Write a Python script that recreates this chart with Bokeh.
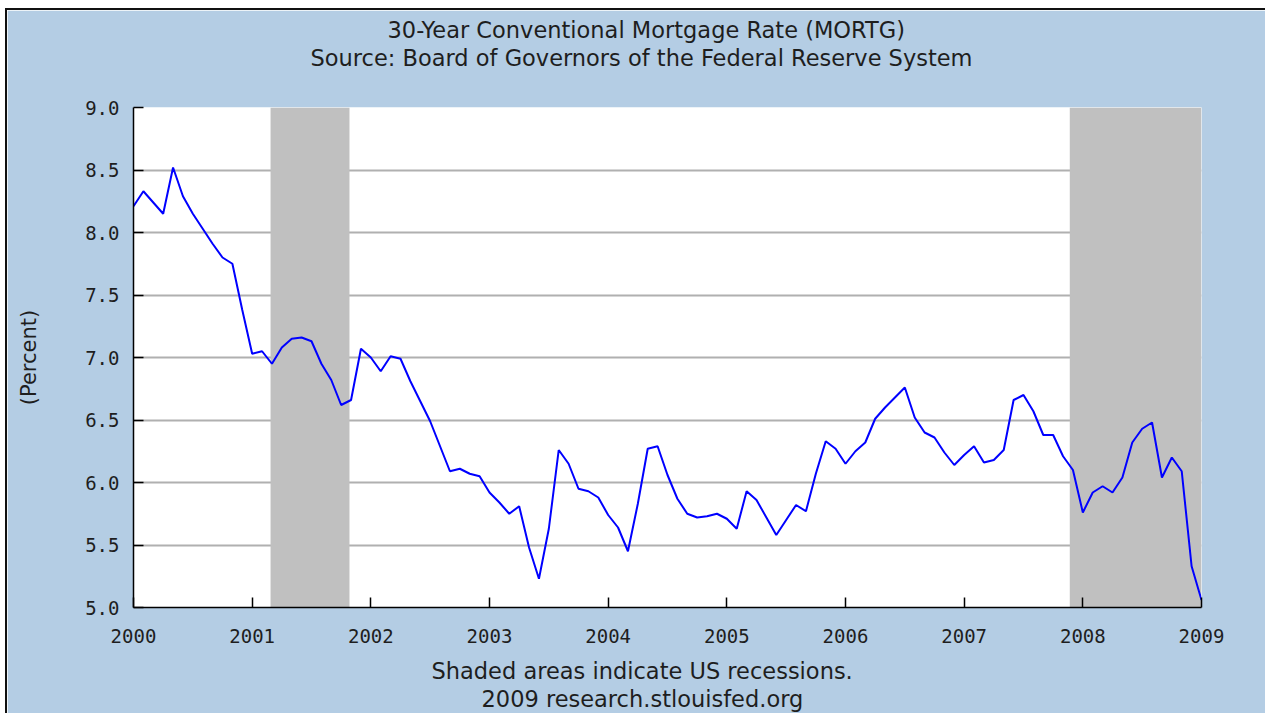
from bokeh.plotting import figure
from bokeh.models import FixedTicker, PrintfTickFormatter, Range1d, Title
from bokeh.embed import file_html
from bokeh.resources import INLINE

# ---- data ----
months = [f"{y}-{m:02d}" for y in range(2000, 2009) for m in range(1, 13)] + ["2009-01"]
rate = [
    8.21, 8.33, 8.24, 8.15, 8.52, 8.29, 8.15, 8.03, 7.91, 7.80, 7.75, 7.38,
    7.03, 7.05, 6.95, 7.08, 7.15, 7.16, 7.13, 6.95, 6.82, 6.62, 6.66, 7.07,
    7.00, 6.89, 7.01, 6.99, 6.81, 6.65, 6.49, 6.29, 6.09, 6.11, 6.07, 6.05,
    5.92, 5.84, 5.75, 5.81, 5.48, 5.23, 5.63, 6.26, 6.15, 5.95, 5.93, 5.88,
    5.74, 5.64, 5.45, 5.83, 6.27, 6.29, 6.06, 5.87, 5.75, 5.72, 5.73, 5.75,
    5.71, 5.63, 5.93, 5.86, 5.72, 5.58, 5.70, 5.82, 5.77, 6.07, 6.33, 6.27,
    6.15, 6.25, 6.32, 6.51, 6.60, 6.68, 6.76, 6.52, 6.40, 6.36, 6.24, 6.14,
    6.22, 6.29, 6.16, 6.18, 6.26, 6.66, 6.70, 6.57, 6.38, 6.38, 6.21, 6.10,
    5.76, 5.92, 5.97, 5.92, 6.04, 6.32, 6.43, 6.48, 6.04, 6.20, 6.09, 5.33,
    5.06,
]
recession_start = [2001.155, 2007.89]
recession_end = [2001.82, 2009.0]
x_ticks = list(range(2000, 2010))
y_ticks = [5.0, 5.5, 6.0, 6.5, 7.0, 7.5, 8.0, 8.5, 9.0]

title1 = "30-Year Conventional Mortgage Rate (MORTG)"
title2 = "Source: Board of Governors of the Federal Reserve System"
foot1 = "Shaded areas indicate US recessions."
foot2 = "2009 research.stlouisfed.org"
ylabel = "(Percent)"

# decimal-year positions of the months
xpos = [int(s[:4]) + (int(s[5:7]) - 1) / 12 for s in months]

BG = "#b4cde4"
TXT = "#1e1e1e"
FONT = "DejaVu Sans"

p = figure(width=1260, height=705,
           x_range=Range1d(x_ticks[0], x_ticks[-1]),
           y_range=Range1d(y_ticks[0], y_ticks[-1]),
           output_backend="svg", toolbar_location=None,
           min_border_left=126, min_border_right=66,
           min_border_top=97, min_border_bottom=108,
           background_fill_color="white", border_fill_color=BG,
           outline_line_color=None)
p.styles = {"margin-left": "5px", "margin-top": "8px",
            "border-left": "2px solid #111", "border-top": "2px solid #111"}

# recession shading (above grid, below line)
p.quad(left=recession_start, right=recession_end,
       bottom=y_ticks[0], top=y_ticks[-1],
       fill_color="#c0c0c0", line_color=None)

p.line(xpos, rate, line_color="#0000ff", line_width=2)

# axes
p.xaxis.ticker = FixedTicker(ticks=x_ticks)
p.xaxis.formatter = PrintfTickFormatter(format="%d")
p.yaxis.ticker = FixedTicker(ticks=y_ticks)
p.yaxis.formatter = PrintfTickFormatter(format="%.1f")
for ax in (p.xaxis, p.yaxis):
    ax.major_tick_in = 10
    ax.major_tick_out = 0
    ax.minor_tick_line_color = None
    ax.major_tick_line_color = "black"
    ax.major_tick_line_width = 1.5
    ax.axis_line_color = "black"
    ax.axis_line_width = 1.5
    ax.major_label_text_font = "DejaVu Sans Mono"
    ax.major_label_text_font_size = "19px"
    ax.major_label_text_color = TXT
p.xaxis.major_label_standoff = 21
p.yaxis.major_label_standoff = 14

p.yaxis.axis_label = ylabel
p.yaxis.axis_label_text_font = FONT
p.yaxis.axis_label_text_font_style = "normal"
p.yaxis.axis_label_text_font_size = "21px"
p.yaxis.axis_label_text_color = TXT
p.yaxis.axis_label_standoff = 41

p.xgrid.grid_line_color = None
p.ygrid.grid_line_color = "#b0b0b0"
p.ygrid.grid_line_width = 2

def ttl(text, side, offset, standoff=0, size="22.5px"):
    p.add_layout(Title(text=text, align="left", offset=offset,
                       text_font=FONT, text_font_size=size,
                       text_font_style="normal", text_color=TXT,
                       standoff=standoff), side)

# above: first added sits nearest the frame
ttl(" ", "above", 0, standoff=33, size="2px")   # spacer
ttl(title2, "above", 177)
ttl(title1, "above", 254)
# below (after the x axis)
ttl(" ", "below", 0, standoff=6, size="2px")    # spacer
ttl(foot1, "below", 298)
ttl(foot2, "below", 348)

open("out.html", "w").write(file_html(p, INLINE))
